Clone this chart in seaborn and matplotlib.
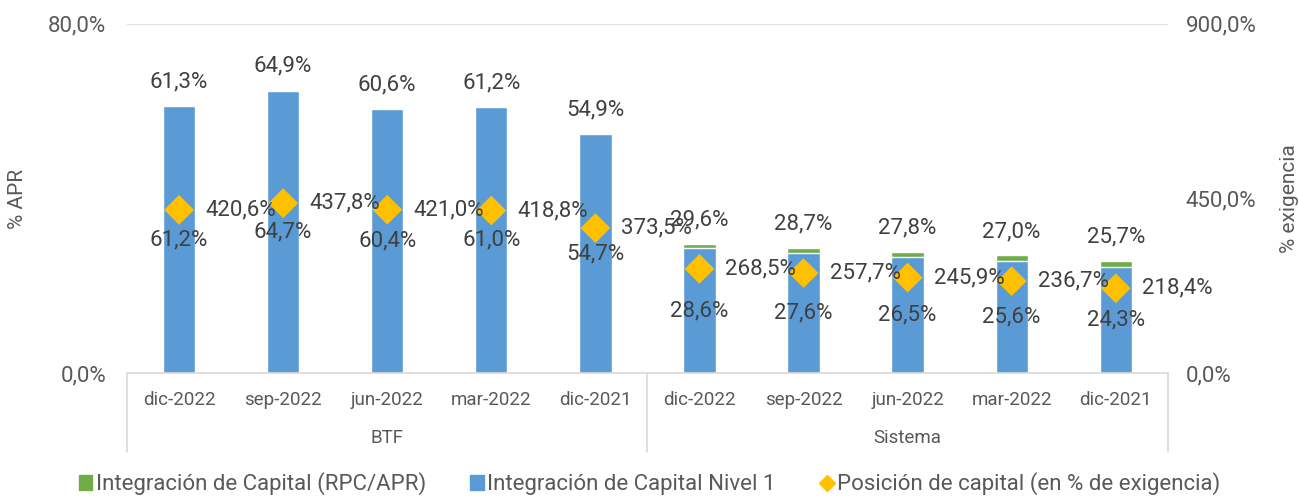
import numpy as np
import pandas as pd
import matplotlib
matplotlib.use("Agg")
import matplotlib.pyplot as plt
from matplotlib.patches import Patch
from matplotlib.lines import Line2D
import seaborn as sns

# Datos ----------------------------
meses = ["dic-2022", "sep-2022", "jun-2022", "mar-2022", "dic-2021"]
grupos = ["BTF", "Sistema"]
rpc_apr = [61.3, 64.9, 60.6, 61.2, 54.9, 29.6, 28.7, 27.8, 27.0, 25.7]
nivel1 = [61.2, 64.7, 60.4, 61.0, 54.7, 28.6, 27.6, 26.5, 25.6, 24.3]
posicion = [420.6, 437.8, 421.0, 418.8, 373.5, 268.5, 257.7, 245.9, 236.7, 218.4]

df = pd.DataFrame({
    "grupo": [g for g in grupos for _ in meses],
    "mes": meses * len(grupos),
    "rpc": rpc_apr,
    "n1": nivel1,
    "pos": posicion,
})
df["clave"] = df["grupo"] + "\n" + df["mes"]
df["idx"] = np.arange(len(df))

verde = "#70AD47"
azul = "#5B9BD5"
oro = "#FFC000"
txt = "#404040"
gris = "#595959"

sns.set_style("white")
plt.rcParams["font.family"] = ["Roboto", "DejaVu Sans"]


def fmt(v):
    return f"{v:.1f}%".replace(".", ",")


fig, ax = plt.subplots(figsize=(12.99, 4.98), dpi=100)
fig.subplots_adjust(left=0.0978, right=0.899, top=0.952, bottom=0.251)

# barras apiladas: total (verde) y nivel 1 (azul) encima
sns.barplot(data=df, x="clave", y="rpc", color=verde, width=0.31,
            saturation=1, errorbar=None, ax=ax)
sns.barplot(data=df, x="clave", y="n1", color=azul, width=0.31,
            saturation=1, errorbar=None, ax=ax)
ax.set_xlim(-0.5, 9.5)
ax.set_ylim(0, 80)
ax.set_yticks([0, 80], [fmt(0), fmt(80)])
ax.tick_params(axis="y", labelsize=16, colors=gris, length=0, pad=15)
ax.set_xticks(range(10), meses * 2)
ax.tick_params(axis="x", labelsize=13.5, colors=gris, length=0, pad=13)
ax.set_xlabel("")
ax.set_ylabel("% APR", fontsize=15, color=gris, va="center")
ax.yaxis.set_label_coords(-0.105, 0.5)
ax.axhline(80, color="#D9D9D9", lw=1.2, zorder=0)
for s in ["top", "left", "right"]:
    ax.spines[s].set_visible(False)
ax.spines["bottom"].set_color("#D9D9D9")
ax.spines["bottom"].set_linewidth(1.2)

# separadores de grupo y etiquetas de grupo
tr = ax.get_xaxis_transform()
for xs in [-0.5, 4.5, 9.5]:
    ax.plot([xs, xs], [0, -0.226], transform=tr, color="#D9D9D9", lw=1.2,
            clip_on=False)
for i, g in enumerate(grupos):
    ax.text(2 + 5 * i, -0.186, g, transform=tr, ha="center", va="center",
            fontsize=13.5, color=gris)

# etiquetas de barras
for i, r in df.iterrows():
    ax.annotate(fmt(r["rpc"]), (r["idx"], r["rpc"]), xytext=(0, 13),
                textcoords="offset pixels", ha="center", va="bottom",
                fontsize=16, color=txt)
    ax.text(r["idx"], r["n1"] / 2, fmt(r["n1"]), ha="center", va="center",
            fontsize=16, color=txt)

# eje secundario: posición de capital
ax2 = ax.twinx()
sns.scatterplot(x=df["idx"], y=df["pos"], marker="D", s=230, color=oro,
                edgecolor="none", ax=ax2, zorder=3)
ax2.set_xlim(-0.5, 9.5)
ax2.set_ylim(0, 900)
ax2.set_yticks([0, 450, 900], [fmt(0), fmt(450), fmt(900)])
ax2.tick_params(axis="y", labelsize=16, colors=gris, length=0, pad=13)
ax2.set_ylabel("% exigencia", fontsize=15, color=gris, va="center")
ax2.yaxis.set_label_coords(1.117, 0.5)
for s in ax2.spines.values():
    s.set_visible(False)
for i, r in df.iterrows():
    ax2.annotate(fmt(r["pos"]), (r["idx"], r["pos"]), xytext=(26, 0),
                 textcoords="offset pixels", ha="left", va="center",
                 fontsize=16, color=txt, zorder=4)

# leyenda
handles = [
    Patch(color=verde, label="Integración de Capital (RPC/APR)"),
    Patch(color=azul, label="Integración de Capital Nivel 1"),
    Line2D([], [], marker="D", ls="none", color=oro, markersize=8,
           label="Posición de capital (en % de exigencia)"),
]
leg = fig.legend(handles=handles, loc="lower center", bbox_to_anchor=(0.5, -0.035),
                 ncol=3, frameon=False, fontsize=16, handlelength=0.6,
                 handleheight=0.6, handletextpad=0.15, columnspacing=2.0)
for t in leg.get_texts():
    t.set_color(gris)

fig.savefig("out.png", dpi=100)
